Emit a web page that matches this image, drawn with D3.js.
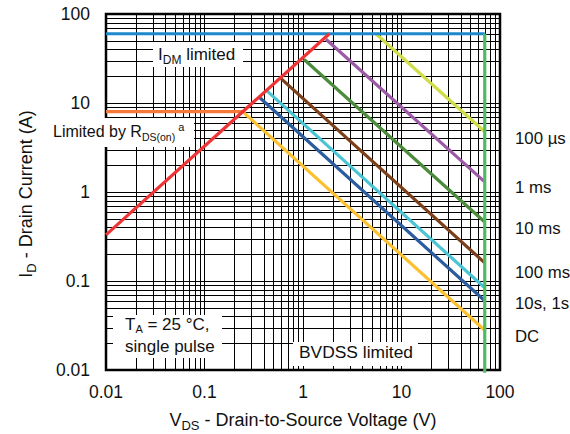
<!DOCTYPE html>
<meta charset="utf-8">
<script src="https://cdnjs.cloudflare.com/ajax/libs/d3/7.8.5/d3.min.js"></script>
<style>
body { margin: 0; background: #fff; }
text { font-family: "Liberation Sans", Arial, sans-serif; fill: #111; }
</style>
<body>
<script>
// chart size
var w = 570;
var h = 434;

// data (V in volts, I in amps)
var idmLimit = 60;          // I_DM limited
var rdsLimitI = 8;          // limited by R_DS(on) flat part
var rdsLimitV = 0.24;
var rdsLine = [[0.01, 0.33], [1.85, 60]];
var bvdss = 70;             // BVDSS limited

var pulseNames  = ["100 µs", "1 ms", "10 ms", "100 ms", "1 s", "10 s", "DC"];
var pulseStartV = [5.5, 1.71, 1.02, 0.58, 0.43, 0.36, 0.25];
var pulseStartI = [60, 52, 31, 19.4, 13.7, 11.6, 7.8];
var pulseEndI   = [4.75, 1.3, 0.46, 0.16, 0.084, 0.06, 0.028];
var pulseColors = ["#cfdd48", "#9b59a6", "#4b8b3b", "#7b3f1a", "#4bc5d5", "#2b5c9e", "#fdc02f"];

var rightLabels = ["100 µs", "1 ms", "10 ms", "100 ms", "10s, 1s", "DC"];
var rightLabelY = [144, 193, 234, 278, 309, 342];

var tickVals = [0.01, 0.1, 1, 10, 100];
var tickText = ["0.01", "0.1", "1", "10", "100"];

var svg = d3.select("body").append("svg")
    .attr("width", w)
    .attr("height", h);

var x = d3.scaleLog().domain([0.01, 100]).range([106, 500]);
var y = d3.scaleLog().domain([0.01, 100]).range([370, 14]);

// grid lines 1..9 per decade
var gridVals = [];
for (var e = -2; e < 2; e++) {
  for (var k = 1; k < 10; k++) gridVals.push(k * Math.pow(10, e));
}

var grid = svg.append("g").attr("stroke", "#000").attr("stroke-width", 1);
grid.selectAll(".gx").data(gridVals).enter().append("line")
  .attr("x1", function(d){ return Math.round(x(d)) + 0.5; })
  .attr("x2", function(d){ return Math.round(x(d)) + 0.5; })
  .attr("y1", y(0.01)).attr("y2", y(100));
grid.selectAll(".gy").data(gridVals).enter().append("line")
  .attr("y1", function(d){ return Math.round(y(d)) + 0.5; })
  .attr("y2", function(d){ return Math.round(y(d)) + 0.5; })
  .attr("x1", x(0.01)).attr("x2", x(100));

// frame
svg.append("rect")
  .attr("x", x(0.01)).attr("y", y(100))
  .attr("width", x(100) - x(0.01)).attr("height", y(0.01) - y(100))
  .attr("fill", "none").attr("stroke", "#000").attr("stroke-width", 2.5);

var line = d3.line()
  .x(function(d){ return x(d[0]); })
  .y(function(d){ return y(d[1]); });

function seg(pts, color) {
  svg.append("path").datum(pts)
    .attr("d", line)
    .attr("fill", "none")
    .attr("stroke", color)
    .attr("stroke-width", 3.2);
}

// pulse lines
pulseNames.forEach(function(n, i) {
  seg([[pulseStartV[i], pulseStartI[i]], [bvdss, pulseEndI[i]]], pulseColors[i]);
});

seg([[0.01, idmLimit], [bvdss, idmLimit]], "#1e88cc");
seg([[0.01, rdsLimitI], [rdsLimitV, rdsLimitI]], "#f4793b");
seg(rdsLine, "#ee3434");
seg([[bvdss, idmLimit], [bvdss, 0.0093]], "#4dbd5f");

// annotation boxes
function box(x0, y0, bw, bh) {
  svg.append("rect").attr("x", x0).attr("y", y0)
    .attr("width", bw).attr("height", bh).attr("fill", "#fff");
}

box(153, 42, 90, 25);
var t1 = svg.append("text").attr("x", 158).attr("y", 60).style("font-size", "17px");
t1.append("tspan").text("I");
t1.append("tspan").attr("dy", 4).style("font-size", "12px").text("DM");
t1.append("tspan").attr("dy", -4).text(" limited");

box(48, 118, 146, 29);
var t2 = svg.append("text").attr("x", 53).attr("y", 137).style("font-size", "16px");
t2.append("tspan").text("Limited by R");
t2.append("tspan").attr("dy", 4).style("font-size", "10.5px").text("DS(on)");
t2.append("tspan").attr("dy", -10).style("font-size", "11px").text(" a");

box(113, 315, 109, 43);
var t3 = svg.append("text").attr("x", 125).attr("y", 330).style("font-size", "17px");
t3.append("tspan").text("T");
t3.append("tspan").attr("dy", 3).style("font-size", "11px").text("A");
t3.append("tspan").attr("dy", -3).text(" = 25 °C,");
svg.append("text").attr("x", 125).attr("y", 352).style("font-size", "17px").text("single pulse");

box(293, 342, 125, 24);
svg.append("text").attr("x", 299).attr("y", 358).style("font-size", "17.4px").text("BVDSS limited");

// right-hand labels
svg.selectAll(".rl").data(rightLabels).enter().append("text")
  .attr("x", 515)
  .attr("y", function(d, i){ return rightLabelY[i]; })
  .style("font-size", "16.8px")
  .text(function(d){ return d; });

// tick labels
svg.selectAll(".xt").data(tickVals).enter().append("text")
  .attr("x", function(d){ return x(d); })
  .attr("y", 398)
  .attr("text-anchor", "middle")
  .style("font-size", "17.5px")
  .text(function(d, i){ return tickText[i]; });

svg.selectAll(".yt").data(tickVals).enter().append("text")
  .attr("x", 90)
  .attr("y", function(d){ return y(d) + 6; })
  .attr("text-anchor", "end")
  .style("font-size", "17.5px")
  .text(function(d, i){ return tickText[i]; });

// axis titles
var xt = svg.append("text").attr("x", 303).attr("y", 426)
  .attr("text-anchor", "middle").style("font-size", "18px");
xt.append("tspan").text("V");
xt.append("tspan").attr("dy", 4).style("font-size", "13px").text("DS");
xt.append("tspan").attr("dy", -4).text(" - Drain-to-Source Voltage (V)");

var yt = svg.append("text")
  .attr("transform", "translate(32,194) rotate(-90)")
  .attr("text-anchor", "middle").style("font-size", "18px");
yt.append("tspan").text("I");
yt.append("tspan").attr("dy", 4).style("font-size", "13px").text("D");
yt.append("tspan").attr("dy", -4).text(" - Drain Current (A)");
</script>
</body>
</html>
